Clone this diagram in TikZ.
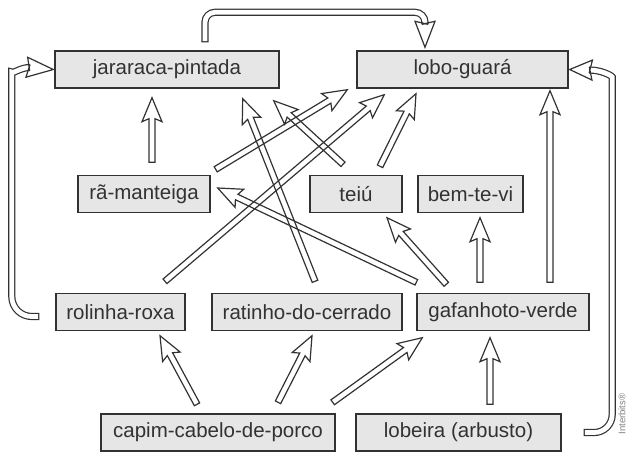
\documentclass[tikz,border=0pt]{standalone}
\usepackage{fontspec}
\setmainfont{Liberation Sans}
\usetikzlibrary{calc}
\definecolor{boxfill}{RGB}{230,230,230}
\definecolor{inkgray}{RGB}{50,50,50}

\def\shaftw{3pt}
\def\headw{10pt}
\def\headl{24pt}
\def\headb{3pt}

% straight hollow arrow: start, tip
\newcommand{\foodarrow}[2]{%
  \coordinate (fa-s) at (#1);
  \coordinate (fa-e) at (#2);
  \coordinate (fa-b) at ($(fa-e)!\headl!(fa-s)$);
  \coordinate (fa-j) at ($(fa-b)!\headb!(fa-e)$);
  \draw[arrowline]
    ($(fa-s)!\shaftw!90:(fa-e)$) -- ($(fa-j)!\shaftw!-90:(fa-s)$)
    -- ($(fa-b)!\headw!-90:(fa-s)$) -- (fa-e)
    -- ($(fa-b)!\headw!90:(fa-s)$) -- ($(fa-j)!\shaftw!90:(fa-s)$)
    -- ($(fa-s)!\shaftw!-90:(fa-e)$) -- cycle;
}
% open head for the bent arrows: base, tip
\newcommand{\foodhead}[2]{%
  \coordinate (fh-b) at (#1);
  \coordinate (fh-e) at (#2);
  \coordinate (fh-c) at ($(fh-b)!\headb!180:(fh-e)$);
  \draw[arrowline]
    ($(fh-b)!\shaftw!90:(fh-e)$) -- ($(fh-c)!\headw!-90:(fh-b)$) -- (fh-e)
    -- ($(fh-c)!\headw!90:(fh-b)$) -- ($(fh-b)!\shaftw!-90:(fh-e)$);
}

\tikzset{
  box/.style={draw=inkgray, fill=boxfill, line width=1.4pt, minimum height=37pt,
    inner sep=0pt, text=inkgray, font=\fontsize{20.5}{24}\selectfont},
  arrowline/.style={draw=inkgray, line width=1.2pt, line join=miter},
  tube/.style={draw=inkgray, line width=7.2pt,
    postaction={draw=white, line width=4.8pt, shorten <=1.2pt}},
}

\begin{document}
\begin{tikzpicture}[x=1pt, y=-1pt]

\useasboundingbox (0,0) rectangle (628,452);

% ===== organisms =====
\node[box, minimum width=224pt] (jarar) at (167,69.5) {jararaca-pintada};
\node[box, minimum width=211pt] (lobo) at (462.5,69.5) {lobo-guará};

\node[box, minimum width=132pt] (ra) at (144,194) {rã-manteiga};
\node[box, minimum width=92pt] (teiu) at (356,194) {teiú};
\node[box, minimum width=105pt] (bemtevi) at (470.5,194) {bem-te-vi};

\node[box, minimum width=129pt] (rolinha) at (120.5,312) {rolinha-roxa};
\node[box, minimum width=190pt] (ratinho) at (307,312) {ratinho-do-cerrado};
\node[box, minimum width=172pt] (gafanhoto) at (503,312) {gafanhoto-verde};

\node[box, minimum width=234pt] (capim) at (218,432.5) {capim-cabelo-de-porco};
\node[box, minimum width=205pt] (lobeira) at (458.5,432.5) {lobeira (arbusto)};

\node[rotate=90, text=gray, font=\fontsize{9.5}{10}\selectfont] (credit) at (622,414) {Interbits®};

% ===== straight arrows =====
\foodarrow{$(ra.north)+(8,-12.5)$}{$(jarar.south)+(-15,9)$}
\foodarrow{$(ra.north east)+(5,-5.5)$}{$(lobo.south west)+(-9,1)$}
\foodarrow{$(rolinha.north)+(44.5,-11.5)$}{$(lobo.south west)+(28,6)$}
\foodarrow{$(ratinho.north)+(8,-11.5)$}{$(jarar.south east)+(-37,10)$}
\foodarrow{$(teiu.north)+(-13,-10.5)$}{$(jarar.south east)+(-6,12)$}
\foodarrow{$(teiu.north)+(24,-8.5)$}{$(lobo.south)+(-46.5,5)$}
\foodarrow{$(gafanhoto.north west)+(0,-10.5)$}{$(ra.east)+(7,-6)$}
\foodarrow{$(gafanhoto.north west)+(30,-8.5)$}{$(teiu.south)+(31,4.5)$}
\foodarrow{$(gafanhoto.north)+(-23,-10.5)$}{$(bemtevi.south)+(9.5,4.5)$}
\foodarrow{$(gafanhoto.north)+(47,-10.5)$}{$(lobo.south)+(87.5,2)$}
\foodarrow{$(capim.north)+(-21,-9)$}{$(rolinha.south)+(39.5,4.5)$}
\foodarrow{$(capim.north)+(60,-11)$}{$(ratinho.south)+(5,4.5)$}
\foodarrow{$(capim.north east)+(-3,-11)$}{$(gafanhoto.south west)+(6,6.5)$}
\foodarrow{$(lobeira.north)+(31.5,-9)$}{$(gafanhoto.south)+(-13,6.5)$}

% ===== bent arrows =====
\draw[tube, rounded corners=10pt] ($(jarar.north)+(38,-8)$)
  |- ($(lobo.north)+(-37.5,-38)$) -- ($(lobo.north)+(-37.5,-26)$);
\foodhead{$(lobo.north)+(-37.5,-26)$}{$(lobo.north)+(-37.5,-3)$}

\draw[tube, rounded corners=20pt] ($(rolinha.west)+(-16,4.5)$)
  -| ($(jarar.west)+(-42.5,22.5)$)
  .. controls ($(jarar.west)+(-42.5,5)$) and ($(jarar.west)+(-34,-2)$) .. ($(jarar.west)+(-24.5,-2)$);
\foodhead{$(jarar.west)+(-24.5,-2)$}{$(jarar.west)+(-1,0)$}

\draw[tube, rounded corners=18pt] ($(lobeira.east)+(22,0)$)
  -| ($(lobo.east)+(43.5,25.5)$)
  .. controls ($(lobo.east)+(43.5,6.5)$) and ($(lobo.east)+(33,0.5)$) .. ($(lobo.east)+(20.5,0.5)$);
\foodhead{$(lobo.east)+(20.5,0.5)$}{$(lobo.east)+(1,0)$}

\end{tikzpicture}
\end{document}
